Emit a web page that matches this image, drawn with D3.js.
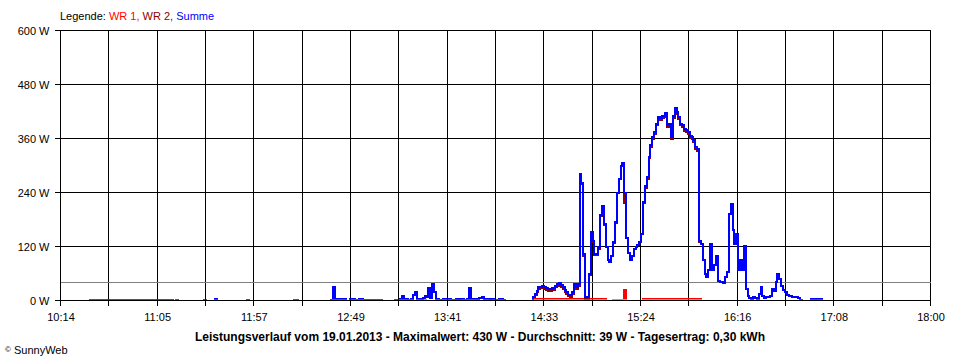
<!DOCTYPE html>
<html>
<head>
<meta charset="UTF-8">
<title>Leistungsverlauf 19.01.2013</title>
<script src="https://cdn.jsdelivr.net/npm/d3@7/dist/d3.min.js"></script>
<style>
body { margin: 0; background: #fff; }
svg { font-family: "Liberation Sans", Arial, sans-serif; font-size: 11px; }
.grid line { stroke: #000; stroke-width: 1; shape-rendering: crispEdges; }
.schnitt { stroke: #808080; stroke-width: 1; shape-rendering: crispEdges; }
.kurve { fill: none; stroke-width: 2; shape-rendering: crispEdges; }
</style>
</head>
<body>
<svg width="960" height="360"></svg>
<script>
// Summe (W), Messzeitpunkte
var zeit = ["10:29","10:33","10:38","10:42","10:47","10:51","10:54","10:56","10:57","11:02",
  "11:03","11:06","11:08","11:11","11:12","11:14","11:16","11:17","11:31","11:32",
  "11:37","11:38","11:54","11:55","12:19","12:21","12:39","12:40","12:41","12:42",
  "12:44","12:45","12:47","12:49","12:50","12:52","12:54","12:56","12:57","12:59",
  "13:01","13:03","13:04","13:06","13:13","13:15","13:16","13:17","13:18","13:20",
  "13:22","13:23","13:24","13:25","13:27","13:28","13:29","13:30","13:31","13:32",
  "13:33","13:34","13:35","13:37","13:39","13:41","13:43","13:45","13:46","13:48",
  "13:50","13:52","13:53","13:54","13:56","13:58","14:00","14:01","14:02","14:04",
  "14:06","14:07","14:09","14:11","14:12","14:27","14:28","14:29","14:30","14:31",
  "14:32","14:33","14:34","14:35","14:36","14:37","14:38","14:39","14:40","14:41",
  "14:42","14:43","14:44","14:45","14:46","14:47","14:48","14:49","14:50","14:51",
  "14:52","14:53","14:54","14:55","14:56","14:57","14:58","14:59","15:00","15:01",
  "15:02","15:03","15:04","15:05","15:06","15:07","15:08","15:09","15:10","15:11",
  "15:12","15:13","15:14","15:15","15:16","15:17","15:18","15:19","15:20","15:21",
  "15:22","15:23","15:24","15:25","15:26","15:27","15:28","15:29","15:30","15:31",
  "15:32","15:33","15:34","15:35","15:36","15:37","15:38","15:39","15:40","15:41",
  "15:42","15:43","15:44","15:45","15:46","15:47","15:48","15:49","15:50","15:51",
  "15:52","15:53","15:54","15:55","15:56","15:57","15:58","15:59","16:00","16:01",
  "16:02","16:03","16:04","16:05","16:06","16:07","16:09","16:10","16:11","16:12",
  "16:13","16:14","16:15","16:16","16:17","16:18","16:19","16:20","16:21","16:22",
  "16:23","16:24","16:25","16:26","16:27","16:28","16:29","16:30","16:31","16:32",
  "16:33","16:34","16:35","16:36","16:37","16:38","16:39","16:40","16:41","16:42",
  "16:43","16:44","16:45","16:46","16:47","16:49","16:50","16:51","16:56","16:57",
  "16:59","17:01","17:02"];
var summe = [2,1,2,1,2,2,1,0,1,0,
  1,2,1,0,1,0,1,0,2,0,
  4,0,1,0,1,0,2,31,2,3,
  2,4,0,3,4,2,3,0,2,1,
  2,0,1,0,1,0,3,9,3,2,
  4,13,19,3,2,5,11,8,28,5,
  36,19,3,2,4,3,2,0,3,4,
  2,3,27,4,3,5,8,3,4,3,
  0,2,3,2,0,8,15,22,30,31,
  32,30,27,26,25,27,28,33,37,38,
  34,30,24,19,13,12,18,37,30,37,
  282,262,104,7,7,60,152,133,104,104,
  118,190,211,171,120,90,85,100,130,174,
  240,271,300,305,240,140,105,89,100,115,
  118,124,130,148,220,255,274,320,345,363,
  374,393,407,405,410,411,416,389,392,363,
  410,428,419,407,393,390,381,378,374,366,
  363,356,341,337,133,126,90,60,52,67,
  126,67,78,100,44,41,39,52,63,193,
  215,156,126,148,67,89,67,122,26,11,
  6,4,7,5,4,15,30,11,6,7,
  8,9,26,22,41,59,48,33,24,18,
  13,11,9,8,7,6,2,0,4,3,
  3,3,0];

// WR 1 (W), eigene Messpunkte
var wr1Zeit = ["10:14","13:29","13:30","13:47","13:48","14:04","14:05","14:28","14:29","14:59",
  "15:06","15:10","15:16","15:17","15:26","15:57"];
var wr1Werte = [0,2,0,1,0,1,0,3,4,3,
  0,2,24,0,4,0];

var xLabels = ["10:14","11:05","11:57","12:49","13:41","14:33","15:24","16:16","17:08","18:00"];
var yTicks = [0, 120, 240, 360, 480, 600];
var durchschnitt = 39;
var titel = "Leistungsverlauf vom 19.01.2013 - Maximalwert: 430 W - Durchschnitt: 39 W - Tagesertrag: 0,30 kWh";

var parseZeit = d3.timeParse("%H:%M");
var t0 = parseZeit(xLabels[0]), t1 = parseZeit(xLabels[xLabels.length - 1]);

var svg = d3.select("svg");
var x = d3.scaleTime().domain([t0, t1]).range([60.5, 930.5]);
var y = d3.scaleLinear().domain([0, 600]).range([300.5, 30.5]);

// Daten
var wr1 = wr1Zeit.map(function(z, i) { return {t: parseZeit(z), v: wr1Werte[i]}; });
var bis = d3.bisector(function(d) { return d.t; }).right;
var sum = zeit.map(function(z, i) { return {t: parseZeit(z), v: summe[i]}; });
var wr2 = sum.map(function(d) {
  var w = wr1[Math.max(0, bis(wr1, d.t) - 1)].v;
  return {t: d.t, v: Math.max(0, d.v - w)};
});

// Gitter
var gridZeiten = d3.range(19).map(function(i) { return d3.interpolateDate(t0, t1)(i / 18); });
var grid = svg.append("g").attr("class", "grid");
grid.selectAll(".v").data(gridZeiten).enter().append("line")
    .attr("x1", function(d) { return x(d); }).attr("x2", function(d) { return x(d); })
    .attr("y1", y(600)).attr("y2", y(0) + 5);
grid.selectAll(".h").data(yTicks).enter().append("line")
    .attr("x1", 55).attr("x2", x(t1))
    .attr("y1", function(d) { return y(d); }).attr("y2", function(d) { return y(d); });

svg.append("line").attr("class", "schnitt")
    .attr("x1", x(t0)).attr("x2", x(t1))
    .attr("y1", y(durchschnitt)).attr("y2", y(durchschnitt));

// Kurven
svg.append("clipPath").attr("id", "clip")
  .append("rect").attr("x", 55).attr("y", 0).attr("width", 880).attr("height", 299.5);

var line = d3.line()
    .x(function(d) { return x(d.t); })
    .y(function(d) { return y(d.v); })
    .curve(d3.curveStepAfter);

var kurven = svg.append("g").attr("clip-path", "url(#clip)");
kurven.append("path").attr("class", "kurve").attr("stroke", "#ff0000").attr("d", line(wr1));
kurven.append("path").attr("class", "kurve").attr("stroke", "#8b0000").attr("d", line(wr2));
kurven.append("path").attr("class", "kurve").attr("stroke", "#0000ff").attr("d", line(sum));

// Nulllinie oben drauf
svg.append("g").attr("class", "grid").append("line")
    .attr("x1", 55).attr("x2", x(t1)).attr("y1", y(0)).attr("y2", y(0));

// Achsen
svg.append("g")
    .attr("transform", "translate(0," + y(0) + ")")
    .call(d3.axisBottom(x).tickValues(gridZeiten).tickSize(0).tickPadding(13)
      .tickFormat(function(d, i) { return i % 2 === 0 ? xLabels[i / 2] : ""; }))
    .call(function(g) {
      g.attr("font-family", null).attr("font-size", null);
      g.select(".domain").remove();
      g.selectAll("text").attr("fill", "#000");
    });

svg.append("g")
    .attr("transform", "translate(" + x(t0) + ",0)")
    .call(d3.axisLeft(y).tickValues(yTicks).tickSize(0).tickPadding(11)
      .tickFormat(function(d) { return d + " W"; }))
    .call(function(g) {
      g.attr("font-family", null).attr("font-size", null);
      g.select(".domain").remove();
      g.selectAll("text").attr("fill", "#000");
    });

// Legende
var leg = svg.append("text").attr("x", 60).attr("y", 20);
leg.append("tspan").attr("fill", "#000").text("Legende: ");
leg.append("tspan").attr("fill", "#ff0000").text("WR 1, ");
leg.append("tspan").attr("fill", "#8b0000").text("WR 2, ");
leg.append("tspan").attr("fill", "#0000ff").text("Summe");

// Titel und Quelle
svg.append("text").attr("x", 480).attr("y", 341).attr("text-anchor", "middle")
    .attr("font-weight", "bold").attr("font-size", 12).text(titel);

var q = svg.append("text").attr("x", 5).attr("y", 354);
q.append("tspan").attr("font-size", 8).attr("dy", -2).text("©");
q.append("tspan").attr("dy", 2).text(" SunnyWeb");
</script>
</body>
</html>
